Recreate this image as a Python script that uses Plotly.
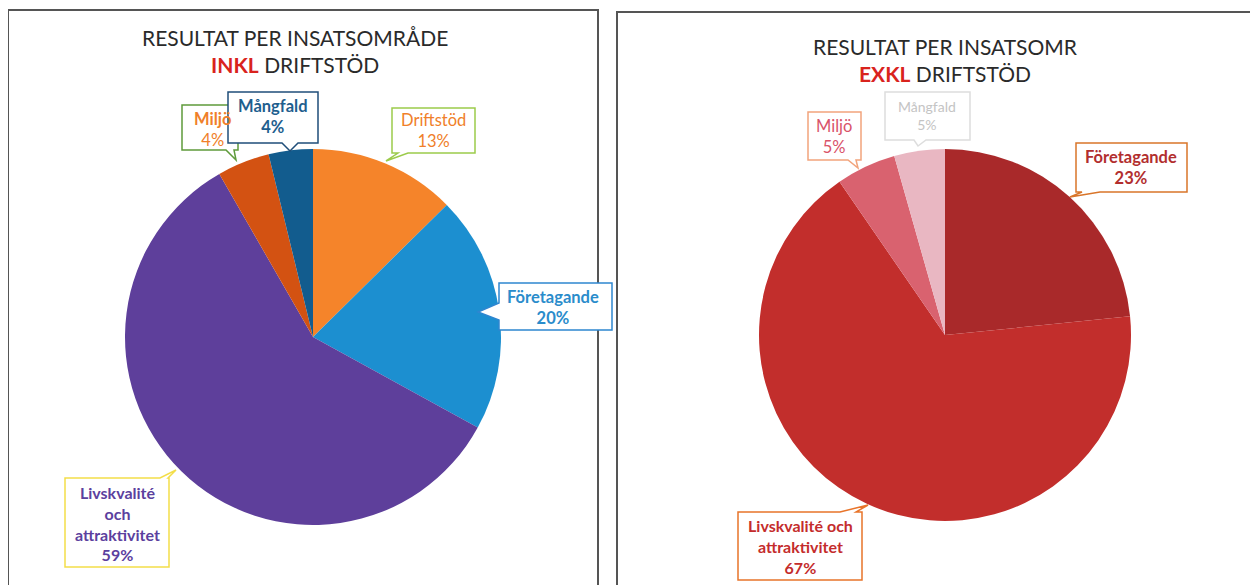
import plotly.graph_objects as go

# page is 1258x585; browser body has an 8px margin, so the figure is offset by 8px
PAGE_W, PAGE_H = 1258, 585
OFF = 8
W, H = PAGE_W - OFF, PAGE_H - OFF

# ---- data ----
labels_inkl = ["Driftstöd", "Företagande", "Livskvalité och attraktivitet", "Miljö", "Mångfald"]
values_inkl = [12.6, 20.4, 58.7, 4.5, 3.8]
pct_inkl = [13, 20, 59, 4, 4]
colors_inkl = ["#F5842A", "#1C8FD0", "#5E3F9B", "#D35212", "#125C8E"]

labels_exkl = ["Företagande", "Livskvalité och attraktivitet", "Miljö", "Mångfald"]
values_exkl = [23.4, 67.0, 5.2, 4.4]
pct_exkl = [23, 67, 5, 5]
colors_exkl = ["#A9292A", "#C22E2C", "#D9626F", "#E9B7C2"]

title_main_inkl = "RESULTAT PER INSATSOMRÅDE"
title_main_exkl = "RESULTAT PER INSATSOMR"
title_sub_inkl = ("INKL", "DRIFTSTÖD")
title_sub_exkl = ("EXKL", "DRIFTSTÖD")


def X(px):
    return (px - OFF) / W


def Y(py):
    return 1 - (py - OFF) / H


fig = go.Figure()

fig.add_trace(go.Pie(
    labels=labels_inkl, values=values_inkl, sort=False, direction="clockwise",
    rotation=0, marker=dict(colors=colors_inkl, line=dict(width=0)),
    textinfo="none", hoverinfo="label+percent", showlegend=False,
    domain=dict(x=[X(125), X(501)], y=[Y(525), Y(149)]),
))
fig.add_trace(go.Pie(
    labels=labels_exkl, values=values_exkl, sort=False, direction="clockwise",
    rotation=0, marker=dict(colors=colors_exkl, line=dict(width=0)),
    textinfo="none", hoverinfo="label+percent", showlegend=False,
    domain=dict(x=[X(759), X(1131)], y=[Y(521), Y(149)]),
))

shapes = []
annotations = []

# panel frames
shapes.append(dict(type="rect", xref="paper", yref="paper", x0=X(8), x1=X(598), y0=Y(600), y1=Y(10),
                   line=dict(color="#555555", width=2), fillcolor="rgba(0,0,0,0)", layer="above"))
shapes.append(dict(type="rect", xref="paper", yref="paper", x0=X(617), x1=X(1253), y0=Y(600), y1=Y(12),
                   line=dict(color="#555555", width=2), fillcolor="rgba(0,0,0,0)", layer="above"))


def callout(box, tail, color, width=1.5):
    x0, y0, x1, y1 = box
    edge, pts = tail
    a, tip, b = pts
    if edge == "bottom":
        path_pts = [(x0, y0), (x1, y0), (x1, y1), (b[0], y1), tip, (a[0], y1), (x0, y1)]
    elif edge == "left":
        path_pts = [(x0, y0), (x1, y0), (x1, y1), (x0, y1), (x0, b[1]), tip, (x0, a[1])]
    else:  # top
        path_pts = [(x0, y0), (a[0], y0), tip, (b[0], y0), (x1, y0), (x1, y1), (x0, y1)]
    path = "M " + " L ".join(f"{X(px):.5f},{Y(py):.5f}" for px, py in path_pts) + " Z"
    shapes.append(dict(type="path", xref="paper", yref="paper", path=path,
                       line=dict(color=color, width=width), fillcolor="white", layer="above"))


def label_text(lbl, pct, bold_label, bold_pct):
    l = f"<b>{lbl}</b>" if bold_label else lbl
    p = f"<b>{pct}%</b>" if bold_pct else f"{pct}%"
    return f"{l}<br>{p}"


FONT = "Lato, 'Open Sans', sans-serif"


def text(px, py, txt, size, color):
    annotations.append(dict(x=X(px), y=Y(py), xref="paper", yref="paper", showarrow=False,
                            xanchor="center", yanchor="middle", align="center", text=txt,
                            font=dict(family=FONT, size=size, color=color)))


CS = 16.5

# ---- left callouts ----
callout((182, 105, 238, 150), ("bottom", [(226, 0), (236, 160), (234, 0)]), "#5F9B3B")
text(212, 129, label_text(labels_inkl[3], pct_inkl[3], True, False), CS, "#F07F2A")
callout((228, 92, 318, 143), ("bottom", [(282, 0), (290, 151), (298, 0)]), "#1F4E79")
text(273, 117, label_text(labels_inkl[4], pct_inkl[4], True, True), CS, "#1E5E8E")
callout((392, 108, 475, 153), ("bottom", [(398, 0), (386, 161), (408, 0)]), "#9CCB4B")
text(433, 131, label_text(labels_inkl[0], pct_inkl[0], False, False), CS, "#F07F2A")
callout((499, 283, 612, 330), ("left", [(0, 303), (478, 312), (0, 320)]), "#2E86D0")
text(553, 307, label_text(labels_inkl[1], pct_inkl[1], True, True), CS, "#2A8CCB")
callout((65, 478, 169, 567), ("top", [(160, 0), (176, 470), (168, 0)]), "#F3DE4A")
text(117, 523, "<b>Livskvalité<br>och<br>attraktivitet<br>" + f"{pct_inkl[2]}%</b>", 16, "#5B409E")

# ---- right callouts ----
callout((808, 112, 861, 160), ("bottom", [(848, 0), (858, 168), (856, 0)]), "#F2A47C")
text(834, 136, label_text(labels_exkl[2], pct_exkl[2], False, False), CS, "#D9536A")
callout((885, 92, 970, 140), ("bottom", [(914, 0), (918, 146), (926, 0)]), "#DDDDDD")
text(927, 116, label_text(labels_exkl[3], pct_exkl[3], False, False), 14, "#C4C4C4")
callout((1076, 143, 1187, 192), ("bottom", [(1082, 0), (1070, 197), (1100, 0)]), "#D9752A")
text(1131, 167, label_text(labels_exkl[0], pct_exkl[0], True, True), CS, "#B22E2E")
callout((738, 512, 862, 580), ("top", [(840, 0), (868, 505), (856, 0)]), "#E8742A")
text(800, 546, "<b>Livskvalité och<br>attraktivitet<br>" + f"{pct_exkl[1]}%</b>", 16, "#C42C2C")

# ---- titles (two lines in one text) ----
text(295, 51, title_main_inkl + "<br>" +
     f"<span style='color:#D9231D'><b>{title_sub_inkl[0]}</b></span> {title_sub_inkl[1]}", 21, "#2A2A2A")
text(945, 60, title_main_exkl + "<br>" +
     f"<span style='color:#D9231D'><b>{title_sub_exkl[0]}</b></span> {title_sub_exkl[1]}", 21, "#2A2A2A")

fig.update_layout(
    width=W, height=H, margin=dict(l=0, r=0, t=0, b=0),
    paper_bgcolor="white", plot_bgcolor="white",
    shapes=shapes, annotations=annotations, showlegend=False,
)

fig.write_html("out.html")
